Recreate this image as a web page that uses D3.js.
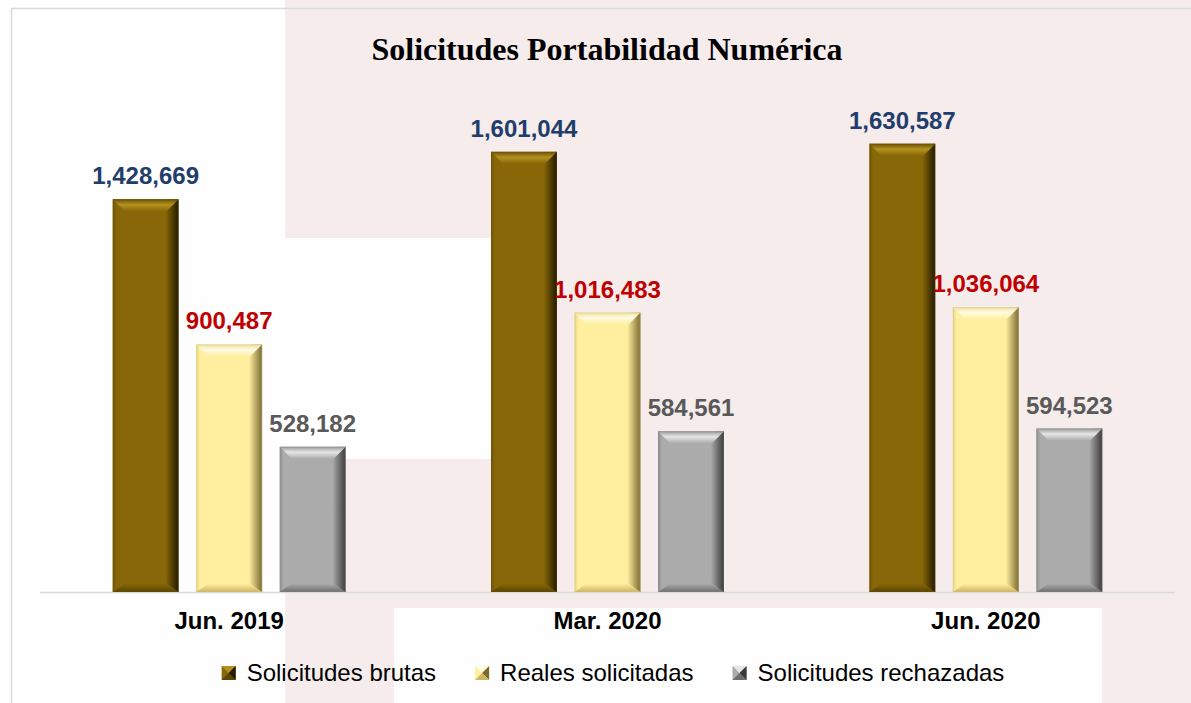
<!DOCTYPE html>
<html>
<head>
<meta charset="utf-8">
<script src="https://cdn.jsdelivr.net/npm/d3@7"></script>
<style>
  html, body { margin: 0; padding: 0; background: #fefefe; }
  svg { display: block; }
</style>
</head>
<body>
<div id="chart"></div>
<script>
const categories = ['Jun. 2019', 'Mar. 2020', 'Jun. 2020'];
const seriesNames = ['Solicitudes brutas', 'Reales solicitadas', 'Solicitudes rechazadas'];
const brutas = [1428669, 1601044, 1630587];
const reales = [900487, 1016483, 1036064];
const rechazadas = [528182, 584561, 594523];
const seriesValues = [brutas, reales, rechazadas];

const width = 1191, height = 703;
const dims = { left: 40, right: 1175, base: 592 };

// bevel palettes per series
const palettes = [
  { base: '#876707', edgeL: '#6f5505', edgeR: '#231a00', top1: '#6a5106', top2: '#b4911f', bottom: '#5a4503', label: '#213d6b' },
  { base: '#ffef9f', edgeL: '#e8d680', edgeR: '#7a6a30', top1: '#efe0a0', top2: '#fffbe2', bottom: '#cdb565', label: '#c00000' },
  { base: '#ababab', edgeL: '#8d8d8d', edgeR: '#3a3a3a', top1: '#9a9a9a', top2: '#e6e6e6', bottom: '#6e6e6e', label: '#595959' }
];

const svg = d3.select('#chart').append('svg')
  .attr('width', width)
  .attr('height', height);

// slide background
svg.append('rect').attr('width', width).attr('height', height).attr('fill', '#fefefe');
svg.append('rect').attr('x', 285).attr('y', 0).attr('width', width - 285).attr('height', height).attr('fill', '#f6ecec');
svg.append('rect').attr('x', 285).attr('y', 238).attr('width', 206).attr('height', 221).attr('fill', '#fefefe');
svg.append('rect').attr('x', 394).attr('y', 608).attr('width', 708).attr('height', 95).attr('fill', '#fefefe');
svg.append('line').attr('x1', 11).attr('x2', width).attr('y1', 8.5).attr('y2', 8.5)
  .attr('stroke', '#dadada').attr('stroke-width', 1.5);
svg.append('line').attr('x1', 11.5).attr('x2', 11.5).attr('y1', 8).attr('y2', height)
  .attr('stroke', '#dadada').attr('stroke-width', 1.5);

const x0 = d3.scaleBand().domain(categories).range([dims.left, dims.right]).padding(0);
const x1 = d3.scaleBand().domain(seriesNames).range([0, x0.bandwidth()])
  .paddingInner(0.21).paddingOuter(0.87);
const y = d3.scaleLinear().domain([0, 2000000]).range([dims.base, dims.base - 549.8]);

const defs = svg.append('defs');
palettes.forEach(function (p, i) {
  const g = defs.append('linearGradient').attr('id', 'body' + i)
    .attr('x1', 0).attr('x2', 1).attr('y1', 0).attr('y2', 0);
  g.append('stop').attr('offset', '0%').attr('stop-color', p.edgeL);
  g.append('stop').attr('offset', '6%').attr('stop-color', p.base);
  g.append('stop').attr('offset', '80%').attr('stop-color', p.base);
  g.append('stop').attr('offset', '100%').attr('stop-color', p.edgeR);

  const t = defs.append('linearGradient').attr('id', 'top' + i)
    .attr('x1', 0).attr('x2', 0).attr('y1', 0).attr('y2', 1);
  t.append('stop').attr('offset', '0%').attr('stop-color', p.top1);
  t.append('stop').attr('offset', '45%').attr('stop-color', p.top2);
  t.append('stop').attr('offset', '100%').attr('stop-color', p.base);

  const b = defs.append('linearGradient').attr('id', 'bot' + i)
    .attr('x1', 0).attr('x2', 0).attr('y1', 0).attr('y2', 1);
  b.append('stop').attr('offset', '0%').attr('stop-color', p.base);
  b.append('stop').attr('offset', '100%').attr('stop-color', p.bottom);
});

// axis baseline
svg.append('line')
  .attr('x1', dims.left).attr('x2', dims.right)
  .attr('y1', dims.base + 0.5).attr('y2', dims.base + 0.5)
  .attr('stroke', '#d9d9d9').attr('stroke-width', 1.5);

const bev = 12;
const groups = svg.selectAll('g.group')
  .data(categories)
  .join('g')
  .attr('class', 'group')
  .attr('transform', function (d) { return 'translate(' + x0(d) + ',0)'; });

groups.each(function (cat, ci) {
  const g = d3.select(this);
  seriesNames.forEach(function (s, si) {
    const v = seriesValues[si][ci];
    const bx = x1(s), bw = x1.bandwidth();
    const top = y(v), bot = y(0);
    const p = palettes[si];
    const bar = g.append('g');
    bar.append('rect')
      .attr('x', bx).attr('y', top)
      .attr('width', bw).attr('height', bot - top)
      .attr('fill', 'url(#body' + si + ')');
    bar.append('polygon')
      .attr('points', [[bx, top], [bx + bw, top], [bx + bw - bev, top + bev], [bx + bev, top + bev]].join(' '))
      .attr('fill', 'url(#top' + si + ')');
    bar.append('polygon')
      .attr('points', [[bx, bot], [bx + bw, bot], [bx + bw - bev, bot - bev * 0.7], [bx + bev, bot - bev * 0.7]].join(' '))
      .attr('fill', 'url(#bot' + si + ')');
    bar.append('rect')
      .attr('x', bx + 0.5).attr('y', top + 0.5)
      .attr('width', bw - 1).attr('height', bot - top - 1)
      .attr('fill', 'none').attr('stroke', d3.color(p.base).darker(0.6)).attr('stroke-opacity', 0.35);

    g.append('text')
      .attr('x', bx + bw / 2)
      .attr('y', top - 15)
      .attr('text-anchor', 'middle')
      .attr('font-family', 'Liberation Sans, Arial, sans-serif')
      .attr('font-weight', 'bold')
      .attr('font-size', 24)
      .attr('fill', p.label)
      .text(d3.format(',')(v));
  });

  g.append('text')
    .attr('x', x0.bandwidth() / 2)
    .attr('y', 629)
    .attr('text-anchor', 'middle')
    .attr('font-family', 'Liberation Sans, Arial, sans-serif')
    .attr('font-weight', 'bold')
    .attr('font-size', 24)
    .attr('fill', '#000')
    .text(cat);
});

// title
svg.append('text')
  .attr('x', 607)
  .attr('y', 60)
  .attr('text-anchor', 'middle')
  .attr('font-family', 'Liberation Serif, Times New Roman, serif')
  .attr('font-weight', 'bold')
  .attr('font-size', 32)
  .attr('fill', '#000')
  .text('Solicitudes Portabilidad Numérica');

// legend
const legend = svg.append('g');
let lx = 0;
const ms = 14, legendGap = 39;
seriesNames.forEach(function (s, i) {
  const p = palettes[i];
  const item = legend.append('g').attr('transform', 'translate(' + lx + ',0)');
  item.append('rect').attr('x', 0).attr('y', -7).attr('width', ms).attr('height', ms).attr('fill', p.base);
  item.append('polygon').attr('points', [[0, -7], [ms, -7], [ms / 2, 0]].join(' ')).attr('fill', p.top2);
  item.append('polygon').attr('points', [[ms, -7], [ms, 7], [ms / 2, 0]].join(' ')).attr('fill', p.edgeR);
  item.append('polygon').attr('points', [[0, 7], [ms, 7], [ms / 2, 0]].join(' ')).attr('fill', p.bottom);
  const t = item.append('text')
    .attr('x', ms + 11)
    .attr('y', 8)
    .attr('font-family', 'Liberation Sans, Arial, sans-serif')
    .attr('font-size', 24)
    .attr('fill', '#000')
    .text(s);
  lx += ms + 11 + t.node().getComputedTextLength() + legendGap;
});
const legendW = lx - legendGap;
legend.attr('transform', 'translate(' + (613 - legendW / 2) + ',673)');
</script>
</body>
</html>
